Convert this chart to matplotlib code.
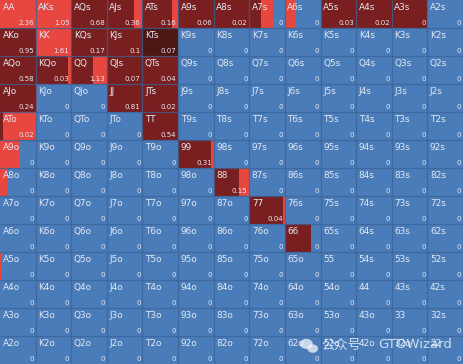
import matplotlib
matplotlib.use("Agg")
import matplotlib.pyplot as plt
from matplotlib.patches import Rectangle, Ellipse

ranks = ["A", "K", "Q", "J", "T", "9", "8", "7", "6", "5", "4", "3", "2"]

# raise frequency (dark red), row by row
raise_freq = [
    [0, 0, 1, 0.75, 0.82, 1, 1, 0.34, 0, 1, 1, 1, 0],
    [1, 0, 1, 1, 1, 0, 0, 0, 0, 0, 0, 0, 0],
    [1, 0.92, 0.61, 1, 1, 0, 0, 0, 0, 0, 0, 0, 0],
    [1, 0, 0, 1, 1, 0, 0, 0, 0, 0, 0, 0, 0],
    [0.08, 0, 0, 0, 1, 0, 0, 0, 0, 0, 0, 0, 0],
    [0, 0, 0, 0, 0, 0.92, 0, 0, 0, 0, 0, 0, 0],
    [0, 0, 0, 0, 0, 0, 0.72, 0, 0, 0, 0, 0, 0],
    [0, 0, 0, 0, 0, 0, 0, 0.94, 0, 0, 0, 0, 0],
    [0, 0, 0, 0, 0, 0, 0, 0, 0.72, 0, 0, 0, 0],
    [0, 0, 0, 0, 0, 0, 0, 0, 0, 0, 0, 0, 0],
    [0, 0, 0, 0, 0, 0, 0, 0, 0, 0, 0, 0, 0],
    [0, 0, 0, 0, 0, 0, 0, 0, 0, 0, 0, 0, 0],
    [0, 0, 0, 0, 0, 0, 0, 0, 0, 0, 0, 0, 0],
]

# call frequency (bright red)
call_freq = [
    [1, 1, 0, 0.25, 0.18, 0, 0, 0.32, 0.31, 0, 0, 0, 0],
    [0, 1, 0, 0, 0, 0, 0, 0, 0, 0, 0, 0, 0],
    [0, 0.07, 0.39, 0, 0, 0, 0, 0, 0, 0, 0, 0, 0],
    [0, 0.08, 0, 0, 0, 0, 0, 0, 0, 0, 0, 0, 0],
    [0.92, 0, 0, 0, 0, 0, 0, 0, 0, 0, 0, 0, 0],
    [0.53, 0, 0, 0, 0, 0.06, 0, 0, 0, 0, 0, 0, 0],
    [0.19, 0, 0, 0, 0, 0, 0.26, 0, 0, 0, 0, 0, 0],
    [0, 0, 0, 0, 0, 0, 0, 0.06, 0, 0, 0, 0, 0],
    [0, 0, 0, 0, 0, 0, 0, 0, 0, 0, 0, 0, 0],
    [0.05, 0, 0, 0, 0, 0, 0, 0, 0, 0, 0, 0, 0],
    [0, 0, 0, 0, 0, 0, 0, 0, 0, 0, 0, 0, 0],
    [0, 0, 0, 0, 0, 0, 0, 0, 0, 0, 0, 0, 0],
    [0, 0, 0, 0, 0, 0, 0, 0, 0, 0, 0, 0, 0],
]

# hand highlighted in a darker shade
highlight_hands = ["KTs"]

# EV values shown in each cell
ev_values = [
    ["2.36", "1.05", "0.68", "0.36", "0.16", "0.06", "0.02", "0", "0", "0.03", "0.02", "0", "0"],
    ["0.95", "1.61", "0.17", "0.1", "0.07", "0", "0", "0", "0", "0", "0", "0", "0"],
    ["0.58", "0.03", "1.13", "0.07", "0.04", "0", "0", "0", "0", "0", "0", "0", "0"],
    ["0.24", "0", "0", "0.81", "0.02", "0", "0", "0", "0", "0", "0", "0", "0"],
    ["0.02", "0", "0", "0", "0.54", "0", "0", "0", "0", "0", "0", "0", "0"],
    ["0", "0", "0", "0", "0", "0.31", "0", "0", "0", "0", "0", "0", "0"],
    ["0", "0", "0", "0", "0", "0", "0.15", "0", "0", "0", "0", "0", "0"],
    ["0", "0", "0", "0", "0", "0", "0", "0.04", "0", "0", "0", "0", "0"],
    ["0", "0", "0", "0", "0", "0", "0", "0", "0", "0", "0", "0", "0"],
    ["0", "0", "0", "0", "0", "0", "0", "0", "0", "0", "0", "0", "0"],
    ["0", "0", "0", "0", "0", "0", "0", "0", "0", "0", "0", "0", "0"],
    ["0", "0", "0", "0", "0", "0", "0", "0", "0", "0", "0", "0", "0"],
    ["0", "0", "0", "0", "0", "0", "0", "0", "0", "0", "0", "0", "0"],
]

RAISE_C = "#7a1f1f"
HILITE_C = "#4e1613"
CALL_C = "#e8473f"
FOLD_C = "#4a7cba"
GRID_C = "#3a6396"

plt.rcParams["font.family"] = ["DejaVu Sans", "Noto Sans CJK SC"]
fig = plt.figure(figsize=(4.63, 3.64), dpi=100)
ax = fig.add_axes([0, 0, 1, 1])
ax.set_xlim(0, 13)
ax.set_ylim(13, 0)
ax.axis("off")

n = len(ranks)
for i in range(n):
    for j in range(n):
        if i == j:
            label = ranks[i] + ranks[j]
        elif j > i:
            label = ranks[i] + ranks[j] + "s"
        else:
            label = ranks[j] + ranks[i] + "o"
        r = raise_freq[i][j]
        c = call_freq[i][j]
        f = max(0.0, 1 - r - c)
        rc = HILITE_C if label in highlight_hands else RAISE_C
        x0 = j
        for w, col in ((r, rc), (c, CALL_C), (f, FOLD_C)):
            if w > 0:
                ax.add_patch(Rectangle((x0, i), w, 1, facecolor=col,
                                       edgecolor="none", zorder=1))
                x0 += w
        ax.text(j + 0.07, i + 0.1, label, ha="left", va="top",
                fontsize=6.4, color="#e4e9f2", zorder=3)
        ax.text(j + 0.95, i + 0.92, ev_values[i][j], ha="right",
                va="bottom", fontsize=5.0, color="#e4e9f2", zorder=3)

for k in range(1, n):
    ax.plot([k, k], [0, 13], color=GRID_C, lw=0.9, alpha=0.75, zorder=2)
    ax.plot([0, 13], [k, k], color=GRID_C, lw=0.9, alpha=0.75, zorder=2)

# watermark (WeChat-like icon + text)
ax.add_patch(Ellipse((8.6, 12.28), 0.36, 0.36, facecolor="white",
                     alpha=0.7, edgecolor="none", zorder=4))
ax.add_patch(Ellipse((8.78, 12.45), 0.30, 0.30, facecolor="white",
                     alpha=0.7, edgecolor="none", zorder=4))
ax.text(9.02, 12.32, "公众号", fontsize=9.5, color="white", alpha=0.75,
        family=["Noto Sans CJK SC", "DejaVu Sans"], ha="left", va="center",
        zorder=4)
ax.text(10.62, 12.32, "GTOWizard", fontsize=9.5, color="white", alpha=0.75,
        ha="left", va="center", zorder=4)

fig.savefig("out.png", dpi=100)
